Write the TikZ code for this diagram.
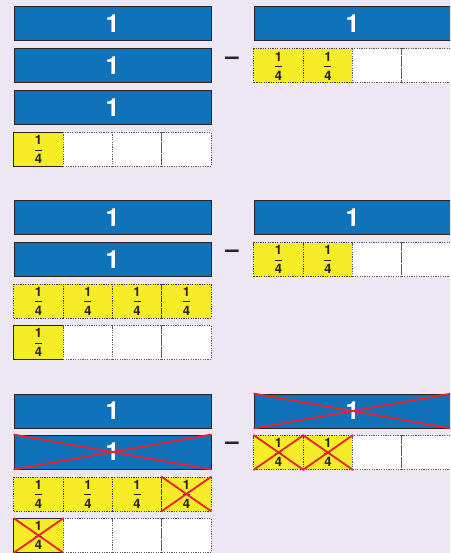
\documentclass[tikz,border=0pt]{standalone}
\usepackage{fontspec}
\setmainfont{TeX Gyre Heros}
\definecolor{bgpurple}{RGB}{236,231,242}
\definecolor{barblue}{RGB}{16,115,186}
\definecolor{fracyellow}{RGB}{246,236,40}
\definecolor{crossred}{RGB}{236,32,48}
\usetikzlibrary{positioning}
\newcommand\quarterlbl{1\\\rule[3.5pt]{7pt}{0.9pt}\\4}

\begin{document}
\begin{tikzpicture}[x=1pt,y=-1pt,
  whole/.style={draw=black!85,line width=1pt,fill=barblue,text=white,
    font=\fontsize{25}{25}\selectfont\bfseries,
    minimum width=197pt,minimum height=34pt,inner sep=0pt},
  qtr/.style={draw=black!75,line width=1pt,dash pattern=on 1.2pt off 1.2pt,
    fill=fracyellow,text=black!85,align=center,
    font=\fontsize{13}{9.5}\selectfont\bfseries,
    minimum width=49.25pt,minimum height=34pt,inner sep=0pt},
  blank/.style={qtr,fill=white,draw=black!65},
  qsolid/.style={qtr,solid,draw=black!85},
  xout/.style={crossred,line width=1.8pt},
  minus/.style={font=\fontsize{24}{24}\selectfont\bfseries,text=black!85,inner sep=0pt}
]
  \useasboundingbox (0,0) rectangle (450,553);
  \fill[bgpurple] (0,0) rectangle (450,553);
  \clip (0,0) rectangle (450,553);

  % first subtraction
  \node[whole] (a1) at (112.5,24) {1};
  \node[whole] (a2) at (112.5,66) {1};
  \node[whole] (a3) at (112.5,107.5) {1};
  \node[qsolid] (a4q1) at (38.6,149.5) {\quarterlbl};
  \foreach \i/\x in {2/87.9,3/137.1,4/186.4}
    \node[blank] (a4q\i) at (\x,149.5) {};
  \node[minus] (am) at (232,61) {–};
  \node[whole] (ar) at (352.5,24) {1};
  \foreach \i/\x in {1/278.6,2/327.9}
    \node[qtr] (arq\i) at (\x,66) {\quarterlbl};
  \foreach \i/\x in {3/377.1,4/426.4}
    \node[blank] (arq\i) at (\x,66) {};

  % second subtraction: one whole traded for quarters
  \node[whole] (b1) at (112.5,217.5) {1};
  \node[whole] (b2) at (112.5,259.5) {1};
  \foreach \i/\x in {1/38.6,2/87.9,3/137.1,4/186.4}
    \node[qtr] (b3q\i) at (\x,301) {\quarterlbl};
  \node[qsolid] (b4q1) at (38.6,342.5) {\quarterlbl};
  \foreach \i/\x in {2/87.9,3/137.1,4/186.4}
    \node[blank] (b4q\i) at (\x,342.5) {};
  \node[minus] (bm) at (232,254) {–};
  \node[whole] (br) at (352.5,217.5) {1};
  \foreach \i/\x in {1/278.6,2/327.9}
    \node[qtr] (brq\i) at (\x,259.5) {\quarterlbl};
  \foreach \i/\x in {3/377.1,4/426.4}
    \node[blank] (brq\i) at (\x,259.5) {};

  % third subtraction: crossing out
  \node[whole] (c1) at (112.5,411) {1};
  \node[whole] (c2) at (112.5,452) {1};
  \foreach \i/\x in {1/38.6,2/87.9,3/137.1,4/186.4}
    \node[qtr] (c3q\i) at (\x,494) {\quarterlbl};
  \node[qsolid] (c4q1) at (38.6,535.5) {\quarterlbl};
  \foreach \i/\x in {2/87.9,3/137.1,4/186.4}
    \node[blank] (c4q\i) at (\x,535.5) {};
  \node[minus] (cm) at (232,446) {–};
  \node[whole] (cr) at (352.5,411) {1};
  \foreach \i/\x in {1/278.6,2/327.9}
    \node[qtr] (crq\i) at (\x,452.5) {\quarterlbl};
  \foreach \i/\x in {3/377.1,4/426.4}
    \node[blank] (crq\i) at (\x,452.5) {};

  \foreach \n in {c2,c3q4,c4q1,cr,crq1,crq2}
    \draw[xout] (\n.north west) -- (\n.south east)
      (\n.south west) -- (\n.north east);
\end{tikzpicture}
\end{document}
